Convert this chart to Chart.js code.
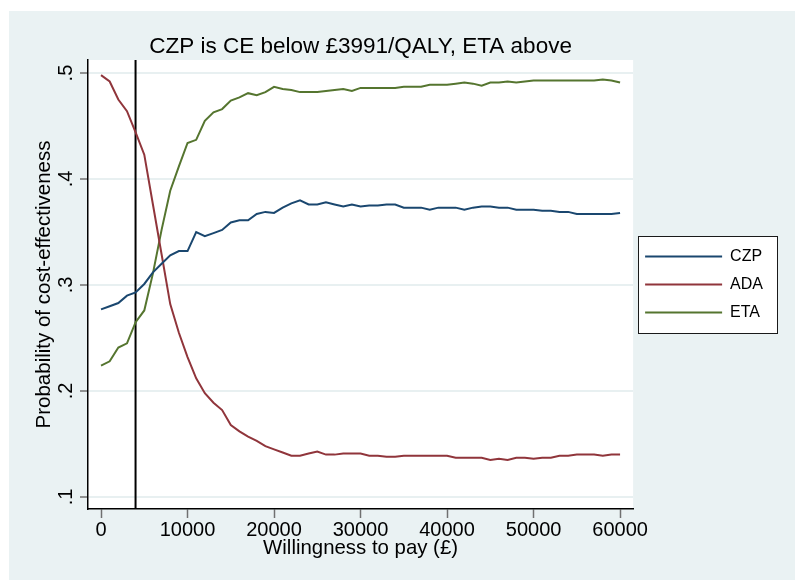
<!DOCTYPE html>
<html>
<head>
<meta charset="utf-8">
<script src="https://cdn.jsdelivr.net/npm/chart.js@4.4.1/dist/chart.umd.min.js"></script>
<style>
html,body{margin:0;padding:0;background:#fff;}
#wrap{width:795px;height:580px;}
</style>
</head>
<body>
<div id="wrap"><canvas id="c" width="795" height="580"></canvas></div>
<script>
// ---- data ----
const wtp = [0,1000,2000,3000,4000,5000,6000,7000,8000,9000,
  10000,11000,12000,13000,14000,15000,16000,17000,18000,19000,
  20000,21000,22000,23000,24000,25000,26000,27000,28000,29000,
  30000,31000,32000,33000,34000,35000,36000,37000,38000,39000,
  40000,41000,42000,43000,44000,45000,46000,47000,48000,49000,
  50000,51000,52000,53000,54000,55000,56000,57000,58000,59000,60000];

const czp = [0.277,0.280,0.283,0.290,0.293,0.301,0.312,0.320,0.328,0.332,
  0.332,0.350,0.346,0.349,0.352,0.359,0.361,0.361,0.367,0.369,
  0.368,0.373,0.377,0.380,0.376,0.376,0.378,0.376,0.374,0.376,
  0.374,0.375,0.375,0.376,0.376,0.373,0.373,0.373,0.371,0.373,
  0.373,0.373,0.371,0.373,0.374,0.374,0.373,0.373,0.371,0.371,
  0.371,0.370,0.370,0.369,0.369,0.367,0.367,0.367,0.367,0.367,0.368];

const ada = [0.498,0.492,0.475,0.464,0.444,0.423,0.376,0.329,0.282,0.255,
  0.232,0.212,0.198,0.189,0.182,0.168,0.162,0.157,0.153,0.148,
  0.145,0.142,0.139,0.139,0.141,0.143,0.140,0.140,0.141,0.141,
  0.141,0.139,0.139,0.138,0.138,0.139,0.139,0.139,0.139,0.139,
  0.139,0.137,0.137,0.137,0.137,0.135,0.136,0.135,0.137,0.137,
  0.136,0.137,0.137,0.139,0.139,0.140,0.140,0.140,0.139,0.140,0.140];

const eta = [0.224,0.228,0.241,0.245,0.265,0.276,0.311,0.352,0.389,0.412,
  0.434,0.437,0.455,0.463,0.466,0.474,0.477,0.481,0.479,0.482,
  0.487,0.485,0.484,0.482,0.482,0.482,0.483,0.484,0.485,0.483,
  0.486,0.486,0.486,0.486,0.486,0.487,0.487,0.487,0.489,0.489,
  0.489,0.490,0.491,0.490,0.488,0.491,0.491,0.492,0.491,0.492,
  0.493,0.493,0.493,0.493,0.493,0.493,0.493,0.493,0.494,0.493,0.491];

const seriesNames = ['CZP', 'ADA', 'ETA'];
const threshold = 3991;
const xTicks = [0, 10000, 20000, 30000, 40000, 50000, 60000];
const xTickLabels = ['0', '10000', '20000', '30000', '40000', '50000', '60000'];
const yTicks = [0.1, 0.2, 0.3, 0.4, 0.5];
const yTickLabels = ['.1', '.2', '.3', '.4', '.5'];
const titleText = 'CZP is CE below £3991/QALY, ETA above';
const xTitleText = 'Willingness to pay (£)';
const yTitleText = 'Probability of cost-effectiveness';

// ---- axis bounds & styling ----
const X_MIN = -1506, X_MAX = 61506;
const Y_MIN = 0.0887, Y_MAX = 0.5123;
const FONT = "'Liberation Sans', Arial, Helvetica, sans-serif";
const COLORS = ['#1a476f', '#90353b', '#55752f'];
const BG = '#eaf2f3';

const toPts = ys => wtp.map((x, i) => ({x: x, y: ys[i]}));

const bgPlugin = {
  id: 'bgPlugin',
  beforeDraw(chart) {
    const {ctx, chartArea: a, width, height} = chart;
    ctx.save();
    ctx.fillStyle = '#ffffff';
    ctx.fillRect(0, 0, width, height);
    ctx.fillStyle = BG;
    ctx.fillRect(9, 11, width - 9, height - 11);
    ctx.fillStyle = '#ffffff';
    ctx.fillRect(a.left, a.top, a.right - a.left, a.bottom - a.top);
    const lg = chart.legend;
    if (lg && lg.legendHitBoxes && lg.legendHitBoxes.length) {
      const hb = lg.legendHitBoxes;
      let r = 0;
      hb.forEach(h => { r = Math.max(r, h.left + h.width); });
      const l = hb[0].left - 7;
      const t = hb[0].top - 12.5;
      const b = hb[hb.length - 1].top + hb[hb.length - 1].height + 12.5;
      r = r + 14;
      ctx.fillStyle = '#ffffff';
      ctx.fillRect(l, t, r - l, b - t);
      ctx.strokeStyle = '#1a1a1a';
      ctx.lineWidth = 1;
      ctx.strokeRect(Math.round(l) + 0.5, Math.round(t) + 0.5, Math.round(r - l), Math.round(b - t));
    }
    ctx.restore();
  }
};

const datasets = [czp, ada, eta].map((ys, i) => ({
  label: seriesNames[i],
  data: toPts(ys),
  borderColor: COLORS[i],
  backgroundColor: COLORS[i],
  borderWidth: 2,
  pointRadius: 0,
  tension: 0,
  fill: false
}));
datasets.push({
  label: 'threshold',
  data: [{x: threshold, y: Y_MIN}, {x: threshold, y: Y_MAX}],
  borderColor: '#000000',
  backgroundColor: '#000000',
  borderWidth: 2,
  pointRadius: 0,
  fill: false
});

new Chart(document.getElementById('c').getContext('2d'), {
  type: 'line',
  data: {datasets: datasets},
  options: {
    responsive: false,
    animation: false,
    devicePixelRatio: 1,
    layout: {padding: {left: 0, top: 0, right: 22, bottom: 0}},
    plugins: {
      title: {
        display: true, text: titleText, fullSize: false, color: '#000',
        font: {family: FONT, size: 22.5, weight: 'normal'},
        padding: {top: 33, bottom: 0}
      },
      legend: {
        position: 'right', align: 'center', fullSize: false,
        labels: {
          usePointStyle: true, pointStyle: 'line', pointStyleWidth: 77,
          font: {family: FONT, size: 16}, color: '#000', padding: 12,
          filter: item => item.datasetIndex < 3
        }
      },
      tooltip: {enabled: false}
    },
    scales: {
      x: {
        type: 'linear', min: X_MIN, max: X_MAX,
        afterBuildTicks: s => { s.ticks = xTicks.map(v => ({value: v})); },
        afterFit: s => { s.height = 71; },
        grid: {display: true, drawOnChartArea: false, drawTicks: true, tickLength: 9,
               tickColor: '#707070', tickWidth: 1.5, color: '#707070'},
        border: {display: true, color: '#000', width: 1.5},
        ticks: {font: {family: FONT, size: 20}, color: '#000', padding: 0,
                maxRotation: 0, minRotation: 0, autoSkip: false,
                callback: v => xTickLabels[xTicks.indexOf(v)]},
        title: {display: true, text: xTitleText, color: '#000',
                font: {family: FONT, size: 20.4}, padding: {top: 0, bottom: 19}}
      },
      y: {
        type: 'linear', min: Y_MIN, max: Y_MAX,
        afterBuildTicks: s => { s.ticks = yTicks.map(v => ({value: v})); },
        afterFit: s => { s.width = 88; },
        grid: {display: true, drawOnChartArea: true, color: '#e8f0f1', lineWidth: 2,
               tickLength: 8, tickColor: '#707070', tickWidth: 1.5},
        border: {display: true, color: '#000', width: 1.5},
        ticks: {font: {family: FONT, size: 20}, color: '#000', padding: 5,
                minRotation: 90, maxRotation: 90, crossAlign: 'center', autoSkip: false,
                callback: v => yTickLabels[yTicks.indexOf(v)]},
        title: {display: true, text: yTitleText, color: '#000',
                font: {family: FONT, size: 20.5}, padding: {top: 32, bottom: 0}}
      }
    }
  },
  plugins: [bgPlugin]
});
</script>
</body>
</html>
